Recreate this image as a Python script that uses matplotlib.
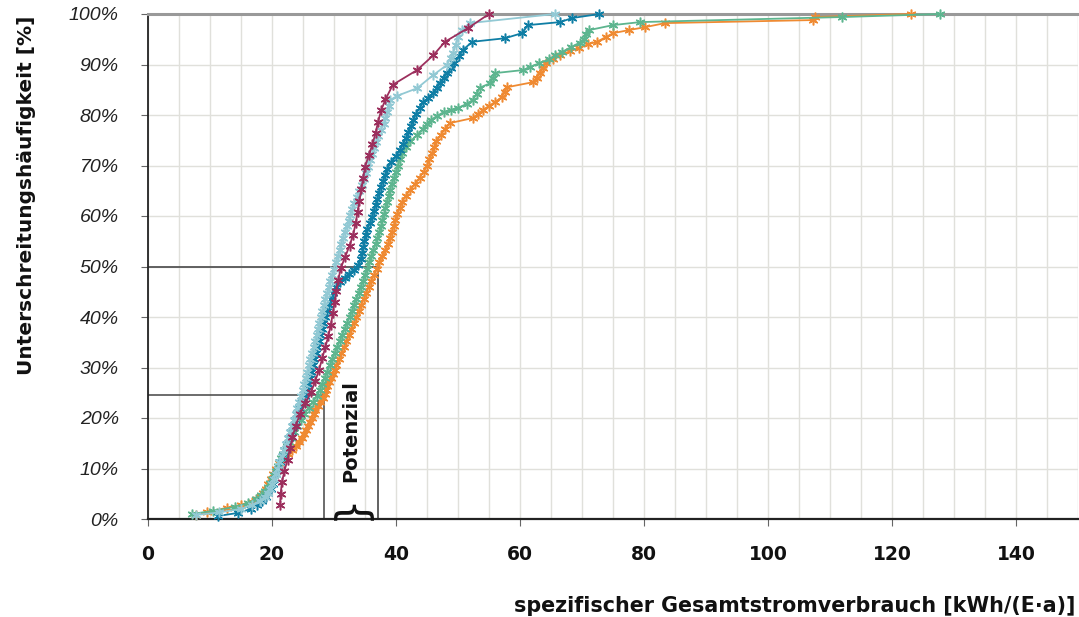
import matplotlib
matplotlib.use("Agg")
import matplotlib.pyplot as plt

# (kWh/(E*a), cumulative %)
maroon_pts = [(21.3, 2.8), (21.4, 5.0), (21.6, 7.3), (22.0, 9.5), (22.5, 11.7), (22.9, 14.0),
              (23.3, 16.2), (23.8, 18.4), (24.5, 20.7), (25.4, 22.9), (26.3, 25.1), (27.0, 27.4),
              (27.6, 29.6), (28.1, 31.8), (28.6, 34.0), (29.1, 36.3), (29.5, 38.5), (29.8, 40.7),
              (30.1, 43.0), (30.4, 45.2), (30.7, 47.4), (31.1, 49.7), (31.8, 51.9), (32.5, 54.1),
              (33.1, 56.3), (33.5, 58.6), (33.8, 60.8), (34.1, 63.0), (34.4, 65.3), (34.7, 67.5),
              (35.0, 69.7), (35.6, 72.0), (36.2, 74.2), (36.7, 76.4), (37.1, 78.6), (37.6, 80.9),
              (38.3, 83.1), (39.5, 86.0), (43.4, 88.9), (46.0, 91.8), (47.9, 94.5), (51.6, 97.2),
              (55.0, 100.0)]

lightblue_pts = [(7.8, 0.8), (11.5, 1.3), (15.0, 2.0), (16.8, 2.8), (18.0, 3.6), (18.8, 4.4),
                 (19.3, 5.2), (19.7, 6.0), (20.0, 7.0), (20.3, 8.0), (20.6, 9.0), (20.9, 10.0),
                 (21.2, 11.2), (21.6, 12.4), (22.0, 13.6), (22.3, 14.8), (22.6, 16.0), (22.9, 17.2),
                 (23.2, 18.4), (23.5, 19.6), (23.8, 20.8), (24.1, 22.0), (24.4, 23.2), (24.7, 24.4),
                 (25.0, 25.6), (25.2, 26.8), (25.5, 28.0), (25.7, 29.2), (26.0, 30.4), (26.2, 31.6),
                 (26.4, 32.8), (26.7, 34.0), (26.9, 35.2), (27.2, 36.4), (27.4, 37.6), (27.6, 38.8),
                 (27.9, 40.0), (28.1, 41.2), (28.4, 42.4), (28.6, 43.6), (28.9, 44.8), (29.2, 46.0),
                 (29.4, 47.2), (29.7, 48.4), (30.0, 49.6), (30.3, 50.8), (30.6, 52.0), (30.9, 53.2),
                 (31.1, 54.4), (31.4, 55.6), (31.7, 56.8), (32.1, 58.0), (32.4, 59.0), (32.6, 60.2),
                 (32.9, 61.4), (33.3, 62.6), (33.7, 63.8), (34.1, 65.0), (34.5, 66.2), (34.8, 67.4),
                 (35.2, 68.6), (35.5, 69.8), (35.8, 71.0), (36.1, 72.2), (36.4, 73.4), (36.8, 74.6),
                 (37.1, 75.8), (37.5, 77.0), (38.0, 78.2), (38.3, 79.4), (38.6, 80.6), (38.8, 81.8),
                 (39.1, 83.0), (40.2, 83.8), (43.4, 85.3), (46.0, 87.9), (48.2, 89.9), (48.8, 91.2),
                 (49.2, 92.3), (49.6, 93.8), (50.0, 95.4), (50.6, 96.8), (51.9, 98.2), (65.6, 100.0)]

teal_pts = [(11.3, 0.6), (14.5, 1.2), (16.6, 2.0), (17.6, 2.8), (18.4, 3.6), (19.0, 4.4),
            (19.4, 5.2), (19.8, 6.0), (20.1, 7.0), (20.4, 8.0), (20.7, 9.0), (21.0, 10.0),
            (21.3, 11.2), (21.7, 12.4), (22.0, 13.6), (22.4, 14.8), (22.7, 16.0), (23.0, 17.2),
            (23.4, 18.4), (23.7, 19.6), (24.0, 20.8), (24.4, 22.0), (24.8, 23.2), (25.3, 24.4),
            (25.6, 25.6), (25.8, 26.8), (26.1, 28.0), (26.3, 29.2), (26.6, 30.4), (26.8, 31.6),
            (27.1, 32.8), (27.3, 34.0), (27.6, 35.2), (27.8, 36.4), (28.1, 37.6), (28.3, 38.8),
            (28.6, 40.0), (28.9, 41.2), (29.2, 42.4), (29.5, 43.6), (29.9, 44.8), (30.4, 46.0),
            (31.0, 47.0), (31.7, 47.8), (32.4, 48.6), (33.2, 49.4), (33.9, 50.2), (34.3, 51.4),
            (34.5, 52.6), (34.7, 53.8), (34.9, 55.0), (35.1, 56.2), (35.3, 57.4), (35.8, 58.6),
            (36.1, 59.8), (36.4, 61.0), (36.7, 62.2), (37.0, 63.4), (37.2, 64.6), (37.5, 65.8),
            (37.9, 67.0), (38.3, 68.2), (38.6, 69.4), (39.2, 70.6), (40.0, 71.8), (40.6, 73.0),
            (41.1, 74.2), (41.6, 75.4), (42.0, 76.6), (42.4, 77.8), (42.8, 79.0), (43.2, 80.2),
            (43.8, 81.4), (44.4, 82.6), (45.2, 83.4), (46.0, 84.4), (46.6, 85.4), (47.1, 86.4),
            (47.7, 87.4), (48.3, 88.4), (48.9, 89.4), (49.4, 90.3), (50.2, 91.6), (50.8, 92.9),
            (52.3, 94.5), (57.6, 95.2), (60.3, 96.2), (61.3, 97.8), (66.5, 98.4), (68.4, 99.2),
            (72.8, 100.0)]

green_pts = [(7.1, 1.0), (10.5, 1.6), (14.0, 2.4), (16.2, 3.2), (17.4, 4.0), (18.3, 4.8),
             (18.9, 5.6), (19.3, 6.4), (19.7, 7.2), (20.0, 8.0), (20.3, 8.8), (20.6, 9.6),
             (20.9, 10.4), (21.2, 11.2), (21.5, 12.0), (21.8, 12.8), (22.1, 13.6), (22.4, 14.4),
             (22.8, 15.2), (23.1, 16.0), (23.6, 17.2), (24.1, 18.4), (24.6, 19.6), (25.2, 20.8),
             (25.9, 22.0), (26.6, 23.2), (27.3, 24.4), (27.7, 25.6), (28.1, 26.8), (28.5, 28.0),
             (28.9, 29.2), (29.3, 30.4), (29.7, 31.6), (30.1, 32.8), (30.5, 34.0), (30.9, 35.2),
             (31.3, 36.4), (31.7, 37.6), (32.1, 38.8), (32.5, 40.0), (32.9, 41.2), (33.2, 42.4),
             (33.6, 43.6), (34.0, 44.8), (34.3, 46.0), (34.7, 47.2), (35.0, 48.4), (35.4, 49.6),
             (35.7, 50.8), (36.0, 52.0), (36.3, 53.2), (36.7, 54.4), (37.0, 55.6), (37.3, 56.8),
             (37.6, 58.0), (37.8, 59.2), (38.1, 60.4), (38.3, 61.6), (38.5, 62.8), (38.8, 64.0),
             (39.0, 65.2), (39.3, 66.4), (39.7, 67.6), (40.0, 68.8), (40.3, 70.0), (40.6, 71.2),
             (41.0, 72.4), (41.6, 73.6), (42.3, 74.8), (43.4, 76.0), (44.3, 77.2), (45.0, 78.2),
             (45.6, 79.0), (46.6, 79.8), (47.7, 80.6), (48.8, 81.0), (50.0, 81.4), (51.4, 82.2),
             (52.4, 83.0), (53.0, 84.2), (53.5, 85.4), (55.2, 86.3), (55.6, 87.3), (56.0, 88.3),
             (60.5, 88.9), (61.6, 89.5), (63.0, 90.2), (64.6, 91.0), (65.7, 91.8), (66.8, 92.5),
             (68.3, 93.5), (69.6, 94.3), (70.3, 95.0), (70.7, 96.0), (71.1, 96.8), (75.0, 97.8),
             (79.4, 98.4), (112.0, 99.4), (127.7, 100.0)]

orange_pts = [(7.8, 0.8), (9.5, 1.4), (12.7, 2.2), (15.0, 2.8), (16.8, 3.4), (17.6, 4.0),
              (18.2, 4.6), (18.6, 5.2), (19.0, 6.0), (19.4, 7.0), (19.8, 8.0), (20.2, 9.0),
              (20.7, 10.0), (21.2, 11.0), (21.8, 12.0), (22.6, 12.8), (23.3, 13.6), (23.9, 14.4),
              (24.4, 15.2), (24.8, 16.0), (25.2, 16.8), (25.5, 17.6), (25.8, 18.4), (26.1, 19.2),
              (26.4, 20.0), (26.7, 20.8), (27.0, 21.6), (27.4, 22.4), (27.8, 23.2), (28.2, 24.0),
              (28.5, 24.8), (28.7, 25.6), (28.9, 26.4), (29.2, 27.2), (29.5, 28.0), (29.8, 28.8),
              (30.1, 29.6), (30.4, 30.4), (30.8, 31.6), (31.2, 32.8), (31.6, 34.0), (32.0, 35.2),
              (32.4, 36.4), (32.8, 37.6), (33.2, 38.8), (33.6, 40.0), (34.0, 41.2), (34.4, 42.4),
              (34.8, 43.6), (35.2, 44.8), (35.6, 46.0), (36.0, 47.2), (36.5, 48.4), (36.9, 49.6),
              (37.3, 50.8), (37.8, 52.0), (38.3, 53.2), (38.7, 54.4), (39.0, 55.6), (39.3, 56.8),
              (39.6, 58.0), (39.9, 59.2), (40.2, 60.4), (40.6, 61.6), (41.0, 62.8), (41.6, 64.0),
              (42.3, 65.2), (43.1, 66.4), (43.8, 67.6), (44.5, 68.8), (45.0, 70.0), (45.4, 71.2),
              (45.8, 72.4), (46.2, 73.6), (46.5, 74.8), (47.2, 76.0), (47.9, 77.2), (48.7, 78.4),
              (52.4, 79.4), (53.2, 80.2), (54.0, 81.0), (55.0, 81.8), (56.0, 82.6), (57.1, 83.6),
              (57.5, 84.6), (57.9, 85.5), (62.1, 86.5), (62.7, 87.4), (63.2, 88.3), (63.7, 89.3),
              (64.2, 90.3), (65.3, 91.1), (66.5, 91.9), (68.0, 92.6), (69.5, 93.3), (71.0, 94.0),
              (72.4, 94.5), (73.8, 95.4), (75.0, 96.2), (77.5, 96.8), (80.2, 97.4), (83.4, 98.2),
              (107.3, 98.8), (107.6, 99.4), (123.0, 100.0)]

# marker lines for the 25% / 50% values
q25_x, q25_y = 28.4, 24.5
q50_x, q50_y = 37.1, 50.0

x_ticks = [0, 20, 40, 60, 80, 100, 120, 140]
y_ticks = [0, 10, 20, 30, 40, 50, 60, 70, 80, 90, 100]

series = [(orange_pts, "#ef8a32"), (green_pts, "#5db58f"), (teal_pts, "#0f7ea5"),
          (lightblue_pts, "#92c9d4"), (maroon_pts, "#9c2f5d")]

fig = plt.figure(figsize=(10.79, 6.17), dpi=100)
ax = fig.add_axes([148 / 1079, 1 - 519 / 617, (1078 - 148) / 1079, (519 - 14) / 617])
ax.set_xlim(0, 150)
ax.set_ylim(0, 100)

ax.set_xticks(x_ticks)
ax.set_xticks(range(0, 151, 5), minor=True)
ax.set_yticks(y_ticks)
ax.grid(which="both", axis="x", color="#e0e0db", lw=1.0, zorder=0)
ax.grid(which="major", axis="y", color="#e0e0db", lw=1.0, zorder=0)
ax.set_axisbelow(True)

ax.plot([0, q50_x, q50_x], [q50_y, q50_y, 0], color="#555555", lw=1.3, zorder=2)
ax.plot([0, q25_x, q25_x], [q25_y, q25_y, 0], color="#444444", lw=1.1, zorder=2)

for pts, col in series:
    xs = [p[0] for p in pts]
    ys = [p[1] for p in pts]
    ax.plot(xs, ys, color=col, lw=1.3, marker=(6, 2, 0), ms=7, mew=1.1,
            clip_on=False, zorder=3)

bold = dict(family=["DejaVu Sans"], fontweight="bold", color="#111111")
ax.text((q25_x + q50_x) / 2, 17.5, "Potenzial", rotation=90, ha="center", va="center",
        fontsize=14, **bold)
ax.text((q25_x + q50_x) / 2, 2.4, "}", rotation=90, ha="center", va="center",
        fontsize=30, family=["DejaVu Sans"], color="#111111")

ax.spines["right"].set_visible(False)
ax.spines["top"].set_color("#999999")
ax.spines["top"].set_linewidth(2.2)
ax.spines["left"].set_color("#222222")
ax.spines["left"].set_linewidth(1.3)
ax.spines["bottom"].set_color("#222222")
ax.spines["bottom"].set_linewidth(1.6)

ax.tick_params(which="minor", length=0)
ax.tick_params(axis="x", which="major", length=5, color="#666666", pad=14)
ax.tick_params(axis="y", which="major", length=5, color="#666666", pad=16)
ax.set_xticklabels([str(v) for v in x_ticks], fontsize=13.5, **bold)
ax.set_yticklabels([f"{v}%" for v in y_ticks], fontsize=14, family=["Liberation Sans"],
                   style="italic", color="#222222")

fig.text(1075 / 1079, 1 - 606 / 617, "spezifischer Gesamtstromverbrauch [kWh/(E·a)]",
         ha="right", va="center", fontsize=14.9, **bold)
fig.text(27 / 1079, 1 - 195 / 617, "Unterschreitungshäufigkeit [%]", rotation=90,
         ha="center", va="center", fontsize=14.5, **bold)

fig.savefig("out.png", dpi=100)
